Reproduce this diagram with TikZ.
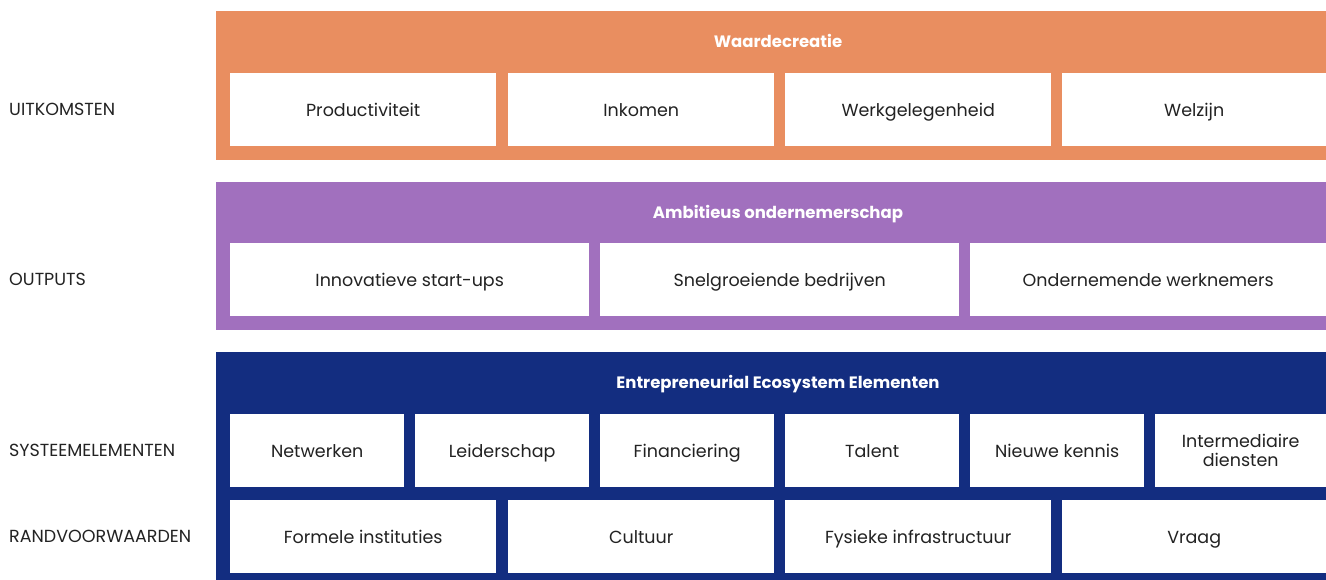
\documentclass[tikz,border=0pt]{standalone}
\usepackage{fontspec}
\setmainfont{Poppins}
\definecolor{ecoorange}{HTML}{E98E60}
\definecolor{ecopurple}{HTML}{A170BE}
\definecolor{econavy}{HTML}{132D80}
\definecolor{ecotext}{HTML}{222222}

\begin{document}
\begin{tikzpicture}[x=1pt, y=-1pt,
    band/.style={rectangle, anchor=north west, inner sep=0pt, minimum width=1110pt},
    bandtitle/.style={inner sep=0pt, text height=0.7em+6pt, text depth=0pt, text=white,
        font=\fontsize{16.5}{19}\selectfont\bfseries},
    cell/.style={rectangle, fill=white, anchor=north west, inner sep=0pt, minimum height=73pt,
        text height=0.7em+6pt, text depth=0pt, text=ecotext, font=\fontsize{17.5}{19}\selectfont, align=center},
    rowlabel/.style={anchor=west, inner sep=0pt, text height=0.7em+6pt, text depth=0pt,
        text=ecotext, font=\fontsize{17.5}{19}\selectfont}]
    \useasboundingbox (0,0) rectangle (1326,580);

    % Row labels
    \node[rowlabel] (lbluit) at (9,109) {UITKOMSTEN};
    \node[rowlabel] (lblout) at (9,279) {OUTPUTS};
    \node[rowlabel] (lblsys) at (9,450) {SYSTEEMELEMENTEN};
    \node[rowlabel] (lblrand) at (9,536) {RANDVOORWAARDEN};

    % Outcomes
    \node[band, fill=ecoorange, minimum height=149pt] (valueband) at (216,11) {};
    \node[bandtitle] (valuetitle) at (778,41) {Waardecreatie};
    \node[cell, minimum width=266pt] (prod) at (230,73) {Productiviteit};
    \node[cell, minimum width=266pt] (income) at (508,73) {Inkomen};
    \node[cell, minimum width=266pt] (jobs) at (785,73) {Werkgelegenheid};
    \node[cell, minimum width=264pt] (welfare) at (1062,73) {Welzijn};

    % Outputs
    \node[band, fill=ecopurple, minimum height=148pt] (ambband) at (216,182) {};
    \node[bandtitle] (ambtitle) at (778,212) {Ambitieus ondernemerschap};
    \node[cell, minimum width=359pt] (startups) at (230,243) {Innovatieve start-ups};
    \node[cell, minimum width=359pt] (growth) at (600,243) {Snelgroeiende bedrijven};
    \node[cell, minimum width=356pt] (employees) at (970,243) {Ondernemende werknemers};

    % Ecosystem elements
    \node[band, fill=econavy, minimum height=228pt] (ecoband) at (216,352) {};
    \node[bandtitle] (ecotitle) at (778,382) {Entrepreneurial Ecosystem Elementen};
    \node[cell, minimum width=174pt] (network) at (230,414) {Netwerken};
    \node[cell, minimum width=174pt] (leader) at (415,414) {Leiderschap};
    \node[cell, minimum width=174pt] (finance) at (600,414) {Financiering};
    \node[cell, minimum width=174pt] (talent) at (785,414) {Talent};
    \node[cell, minimum width=174pt] (knowledge) at (970,414) {Nieuwe kennis};
    \node[cell, minimum width=171pt, text height=, text depth=] (services) at (1155,414) {Intermediaire\\diensten};

    % Framework conditions
    \node[cell, minimum width=266pt] (institutions) at (230,500) {Formele instituties};
    \node[cell, minimum width=266pt] (culture) at (508,500) {Cultuur};
    \node[cell, minimum width=266pt] (infra) at (785,500) {Fysieke infrastructuur};
    \node[cell, minimum width=264pt] (demand) at (1062,500) {Vraag};
\end{tikzpicture}
\end{document}
